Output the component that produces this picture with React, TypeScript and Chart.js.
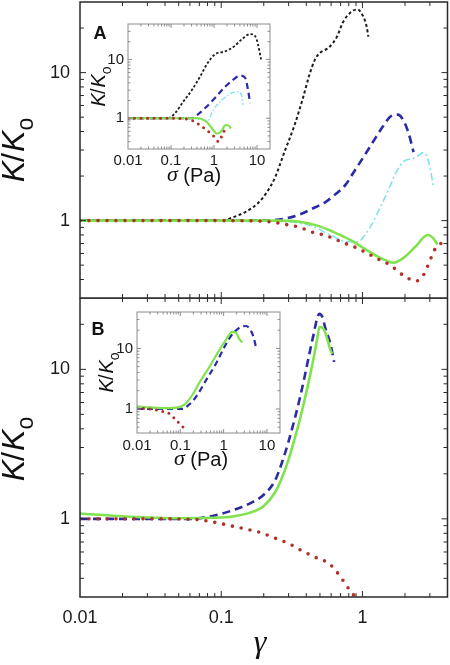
import React, { useEffect, useRef } from 'react';
import { Chart, registerables } from 'chart.js';
Chart.register(...registerables);

// ---------------- Data: main panel A (K/Ko vs strain gamma) ----------------
const gammaA_black = [0.01, 0.03, 0.06, 0.1, 0.12, 0.15, 0.18, 0.21, 0.24, 0.28, 0.33, 0.38, 0.42, 0.46, 0.5, 0.58, 0.66, 0.73, 0.82, 0.92, 1.0, 1.07, 1.1];
const kA_black = [1, 1, 1, 1.0, 1.05, 1.15, 1.3, 1.55, 1.95, 2.9, 4.4, 6.8, 9.6, 12.2, 13.6, 14.8, 17.5, 22, 25.4, 26.7, 24.5, 20.5, 17.5];

const gammaA_blue = [0.01, 0.1, 0.2, 0.28, 0.36, 0.43, 0.55, 0.64, 0.76, 0.86, 1.02, 1.18, 1.39, 1.6, 1.78, 1.95, 2.12, 2.3];
const kA_blue = [1, 1, 1.0, 1.03, 1.1, 1.19, 1.34, 1.5, 1.75, 2.1, 2.7, 3.37, 4.3, 5.1, 5.2, 4.75, 3.9, 2.9];

const gammaA_cyan = [0.01, 0.1, 0.3, 0.45, 0.59, 0.78, 0.94, 1.02, 1.14, 1.34, 1.53, 1.77, 1.95, 2.38, 2.71, 2.94, 3.19];
const kA_cyan = [1, 1, 0.98, 0.91, 0.8, 0.72, 0.72, 0.78, 0.91, 1.24, 1.62, 2.21, 2.5, 2.67, 2.88, 2.5, 1.67];

const gammaA_green = [0.01, 0.1, 0.25, 0.35, 0.48, 0.62, 0.82, 1.05, 1.34, 1.66, 1.95, 2.38, 2.89, 3.13, 3.4];
const kA_green = [1, 1, 1.0, 0.985, 0.925, 0.84, 0.74, 0.64, 0.56, 0.52, 0.56, 0.67, 0.8, 0.77, 0.69];

const gammaA_red = [0.01, 0.1, 0.2, 0.29, 0.36, 0.43, 0.53, 0.62, 0.73, 0.89, 1.05, 1.2, 1.39, 1.58, 1.8, 2.08, 2.38, 2.71, 2.94, 3.13, 3.35, 3.75, 4.0];
const kA_red = [1, 1, 0.99, 0.94, 0.9, 0.84, 0.8, 0.76, 0.71, 0.66, 0.61, 0.57, 0.53, 0.5, 0.45, 0.41, 0.39, 0.43, 0.51, 0.59, 0.67, 0.71, 0.72];

// ---------------- Data: main panel B ----------------
const gammaB_blue = [0.01, 0.063, 0.08, 0.1, 0.12, 0.16, 0.2, 0.24, 0.27, 0.3, 0.33, 0.36, 0.39, 0.42, 0.45, 0.475, 0.495, 0.52, 0.547, 0.593, 0.63];
const kB_blue = [1, 1, 1.03, 1.08, 1.14, 1.27, 1.45, 1.8, 2.4, 3.3, 4.6, 6.4, 9.0, 12.6, 17, 21.5, 23.5, 22.4, 18.7, 14.8, 11.2];

const gammaB_green = [0.01, 0.02, 0.05, 0.1, 0.13, 0.16, 0.2, 0.24, 0.27, 0.3, 0.33, 0.36, 0.39, 0.42, 0.45, 0.475, 0.497, 0.53, 0.565, 0.593, 0.61];
const kB_green = [1.085, 1.04, 1.01, 1.02, 1.05, 1.1, 1.22, 1.5, 1.9, 2.5, 3.4, 4.6, 6.3, 8.6, 11.8, 15.5, 19.2, 18.7, 15.8, 13.5, 12.7];

const gammaB_red = [0.01, 0.03, 0.065, 0.094, 0.122, 0.153, 0.189, 0.234, 0.294, 0.363, 0.449, 0.565, 0.623, 0.698, 0.783, 0.863, 0.9];
const kB_red = [1, 1, 0.99, 0.94, 0.89, 0.85, 0.81, 0.75, 0.69, 0.62, 0.56, 0.51, 0.47, 0.41, 0.35, 0.31, 0.295];

// ---------------- Data: inset A (K/Ko vs stress sigma) ----------------
const sigmaA_black = [0.01, 0.085, 0.124, 0.19, 0.308, 0.472, 0.725, 1.05, 1.8, 2.77, 4.48, 6.87, 8.98, 10.5, 12.4];
const kIA_black = [1, 1, 1.22, 1.89, 3.04, 5.1, 8.9, 12.2, 13.7, 16.1, 22.1, 27, 25, 18.1, 10];

const sigmaA_blue = [0.01, 0.308, 0.4, 0.62, 1.05, 1.8, 2.77, 4.03, 5.26, 6.17, 6.87];
const kIA_blue = [1, 1, 1.13, 1.49, 2.21, 3.42, 4.52, 5.3, 4.9, 3.04, 1.81];

const sigmaA_cyan = [0.01, 0.3, 0.5, 0.725, 0.95, 1.53, 2.62, 3.61, 4.48, 4.72];
const kIA_cyan = [1, 1, 0.95, 0.92, 1.37, 2.04, 2.7, 2.8, 2.3, 1.68];

const sigmaA_green = [0.01, 0.42, 0.69, 0.9, 1.17, 1.53, 1.8, 2.1, 2.48];
const kIA_green = [1, 1, 0.85, 0.67, 0.55, 0.62, 0.76, 0.76, 0.67];

const sigmaA_red = [0.01, 0.105, 0.308, 0.47, 0.69, 0.95, 1.3, 1.55, 1.85];
const kIA_red = [1, 1, 0.92, 0.76, 0.62, 0.51, 0.4, 0.52, 0.68];

// ---------------- Data: inset B ----------------
const sigmaB_green = [0.01, 0.02, 0.049, 0.082, 0.125, 0.181, 0.277, 0.468, 0.79, 1.21, 1.57, 1.94, 2.27, 2.67];
const kIB_green = [1.1, 1.06, 1.03, 1.05, 1.18, 1.62, 2.73, 4.94, 9.3, 15, 18.8, 18, 14.5, 12.5];

const sigmaB_blue = [0.01, 0.113, 0.147, 0.236, 0.4, 0.677, 1.03, 1.49, 2.27, 3.29, 4.28, 5.01, 5.57];
const kIB_blue = [1, 1, 1.12, 1.62, 3.05, 5.73, 10.4, 16.2, 21.8, 23.5, 19.5, 14.5, 10.4];

const sigmaB_red = [0.01, 0.02, 0.034, 0.057, 0.082, 0.113, 0.14];
const kIB_red = [1.02, 1, 0.93, 0.83, 0.64, 0.51, 0.43];

// ---------------- Axis ticks ----------------
const gammaTicks = [0.01, 0.1, 1];
const kMainTicks = [1, 10];
const sigmaTicks = [0.01, 0.1, 1, 10];
const kInsetTicks = [1, 10];

const SANS = '"Liberation Sans", Arial, Helvetica, sans-serif';
const SERIF = '"Liberation Serif", "Times New Roman", serif';

const C_BLACK = '#1c1c1c';
const C_BLUE = '#2b2ba8';
const C_CYAN = '#7fe2f0';
const C_GREEN = '#80e24c';
const C_RED = '#b0302a';

type Style = { color: string; width: number; dash: number[]; cap?: 'butt' | 'round' };

function ds(xs: number[], ys: number[], st: Style) {
  return {
    data: xs.map((x, i) => ({ x, y: ys[i] })),
    borderColor: st.color,
    borderWidth: st.width,
    borderDash: st.dash,
    borderCapStyle: st.cap || 'butt',
    pointRadius: 0,
    showLine: true,
    fill: false,
    cubicInterpolationMode: 'monotone',
  };
}

function logTicks(min: number, max: number) {
  const out: { v: number; major: boolean }[] = [];
  for (let e = Math.floor(Math.log10(min)); e <= Math.ceil(Math.log10(max)); e++) {
    for (let m = 1; m <= 9; m++) {
      const v = m * Math.pow(10, e);
      if (v > min * 1.0001 && v < max * 0.9999) out.push({ v, major: m === 1 });
    }
  }
  return out;
}

function makeOverlay(frame: { color: string; width: number; major: number; minor: number; fill: boolean }, extras: (ctx: CanvasRenderingContext2D, chart: any) => void) {
  return {
    id: 'overlay',
    beforeDatasetsDraw(chart: any) {
      if (!frame.fill) return;
      const { ctx, chartArea: a } = chart;
      ctx.save();
      ctx.fillStyle = '#ffffff';
      ctx.fillRect(a.left, a.top, a.right - a.left, a.bottom - a.top);
      ctx.restore();
    },
    afterDatasetsDraw(chart: any) {
      const { ctx, chartArea: a } = chart;
      const xs = chart.scales.x;
      const ys = chart.scales.y;
      ctx.save();
      ctx.strokeStyle = frame.color;
      ctx.lineWidth = 1;
      ctx.beginPath();
      for (const t of logTicks(xs.min, xs.max)) {
        const p = xs.getPixelForValue(t.v);
        const len = t.major ? frame.major : frame.minor;
        ctx.moveTo(p, a.bottom); ctx.lineTo(p, a.bottom - len);
        ctx.moveTo(p, a.top); ctx.lineTo(p, a.top + len);
      }
      for (const t of logTicks(ys.min, ys.max)) {
        const p = ys.getPixelForValue(t.v);
        const len = t.major ? frame.major : frame.minor;
        ctx.moveTo(a.left, p); ctx.lineTo(a.left + len, p);
        ctx.moveTo(a.right, p); ctx.lineTo(a.right - len, p);
      }
      ctx.stroke();
      ctx.lineWidth = frame.width;
      ctx.strokeRect(a.left, a.top, a.right - a.left, a.bottom - a.top);
      ctx.restore();
      ctx.save();
      extras(ctx, chart);
      ctx.restore();
    },
  };
}

function drawKTitle(ctx: CanvasRenderingContext2D, baseX: number, cy: number, size: number) {
  ctx.save();
  ctx.translate(baseX, cy);
  ctx.rotate(-Math.PI / 2);
  ctx.fillStyle = '#111';
  ctx.textAlign = 'left';
  ctx.textBaseline = 'alphabetic';
  const fK = `italic ${size}px ${SANS}`;
  const fS = `${size}px ${SANS}`;
  const fO = `${Math.round(size * 0.72)}px ${SANS}`;
  ctx.font = fK; const wK = ctx.measureText('K').width;
  ctx.font = fS; const wS = ctx.measureText('/').width;
  ctx.font = fO; const wO = ctx.measureText('o').width;
  const total = wK * 2 + wS + wO;
  let x = -total / 2;
  ctx.font = fK; ctx.fillText('K', x, 0); x += wK;
  ctx.font = fS; ctx.fillText('/', x - size * 0.04, 0); x += wS;
  ctx.font = fK; ctx.fillText('K', x, 0); x += wK;
  ctx.font = fO; ctx.fillText('o', x, size * 0.28);
  ctx.restore();
}

function drawSigmaTitle(ctx: CanvasRenderingContext2D, cx: number, cy: number, size: number) {
  ctx.fillStyle = '#111';
  ctx.textBaseline = 'middle';
  ctx.textAlign = 'left';
  const fSig = `italic ${size + 2}px ${SERIF}`;
  const fRest = `${size}px ${SANS}`;
  ctx.font = fSig; const w1 = ctx.measureText('σ').width;
  ctx.font = fRest; const w2 = ctx.measureText(' (Pa)').width;
  const x = cx - (w1 + w2) / 2;
  ctx.font = fSig; ctx.fillText('σ', x, cy - 1);
  ctx.font = fRest; ctx.fillText(' (Pa)', x + w1, cy);
}

function scaleOpts(min: number, max: number, ticks: number[], opts: { show: boolean; size: number; pad: number; fit: (s: any) => void }) {
  return {
    type: 'logarithmic',
    min,
    max,
    grid: { display: false, drawTicks: false },
    border: { display: false },
    ticks: {
      display: opts.show,
      font: { family: SANS, size: opts.size },
      color: '#1a1a1a',
      padding: opts.pad,
      autoSkip: false,
      maxRotation: 0,
      minRotation: 0,
      callback: (v: any) => String(v),
    },
    afterBuildTicks: (s: any) => { s.ticks = ticks.map((v) => ({ value: v })); },
    afterFit: (s: any) => {
      opts.fit(s);
      s.paddingTop = 0; s.paddingBottom = 0; s.paddingLeft = 0; s.paddingRight = 0;
    },
  };
}

function baseOptions(padding: any, x: any, y: any) {
  return {
    animation: false,
    responsive: false,
    maintainAspectRatio: false,
    events: [],
    layout: { padding },
    plugins: { legend: { display: false }, tooltip: { enabled: false }, title: { display: false } },
    scales: { x, y },
  };
}

const mainFrame = { color: '#2a2a2a', width: 1.5, major: 6, minor: 4, fill: false };
const insetFrame = { color: '#8c8c8c', width: 1, major: 4, minor: 2.5, fill: true };

export default function App() {
  const topRef = useRef<HTMLCanvasElement>(null);
  const botRef = useRef<HTMLCanvasElement>(null);
  const insARef = useRef<HTMLCanvasElement>(null);
  const insBRef = useRef<HTMLCanvasElement>(null);

  useEffect(() => {
    const charts: Chart[] = [];

    const mainStyles = {
      black: { color: C_BLACK, width: 2, dash: [3, 2.5] },
      blue: { color: C_BLUE, width: 2.6, dash: [8, 5] },
      cyan: { color: C_CYAN, width: 1.6, dash: [7, 3, 2, 3] },
      green: { color: C_GREEN, width: 2.6, dash: [] },
      red: { color: C_RED, width: 3.6, dash: [0, 9], cap: 'round' as const },
    };
    const insetStyles = {
      black: { color: C_BLACK, width: 1.8, dash: [2.5, 2] },
      blue: { color: C_BLUE, width: 2.2, dash: [6, 4] },
      cyan: { color: C_CYAN, width: 1.3, dash: [5, 2, 1.5, 2] },
      green: { color: C_GREEN, width: 2.2, dash: [] },
      red: { color: C_RED, width: 3, dash: [0, 6.5], cap: 'round' as const },
    };

    // Top main panel (A)
    charts.push(new Chart(topRef.current!, {
      type: 'scatter',
      data: {
        datasets: [
          ds(gammaA_red, kA_red, mainStyles.red),
          ds(gammaA_green, kA_green, mainStyles.green),
          ds(gammaA_blue, kA_blue, mainStyles.blue),
          ds(gammaA_cyan, kA_cyan, mainStyles.cyan),
          ds(gammaA_black, kA_black, mainStyles.black),
        ] as any,
      },
      options: baseOptions(
        { top: 2, right: 2.5, bottom: 2, left: 0 },
        scaleOpts(0.01, 4, gammaTicks, { show: false, size: 18, pad: 10, fit: (s: any) => { s.height = 0; } }),
        scaleOpts(0.3, 30, kMainTicks, { show: true, size: 18, pad: 10, fit: (s: any) => { s.width = 80; } }),
      ) as any,
      plugins: [makeOverlay(mainFrame, (ctx) => {
        drawKTitle(ctx, 24, 150, 32);
        ctx.fillStyle = '#111';
        ctx.font = `bold 18px ${SANS}`;
        ctx.textAlign = 'center';
        ctx.textBaseline = 'middle';
        ctx.fillText('A', 100, 34);
      })],
    }));

    // Bottom main panel (B)
    charts.push(new Chart(botRef.current!, {
      type: 'scatter',
      data: {
        datasets: [
          ds(gammaB_red, kB_red, mainStyles.red),
          ds(gammaB_green, kB_green, mainStyles.green),
          ds(gammaB_blue, kB_blue, mainStyles.blue),
        ] as any,
      },
      options: baseOptions(
        { top: 0, right: 2.5, bottom: 0, left: 0 },
        scaleOpts(0.01, 4, gammaTicks, { show: true, size: 18, pad: 10, fit: (s: any) => { s.height = 68; } }),
        scaleOpts(0.3, 30, kMainTicks, { show: true, size: 18, pad: 10, fit: (s: any) => { s.width = 80; } }),
      ) as any,
      plugins: [makeOverlay(mainFrame, (ctx) => {
        drawKTitle(ctx, 24, 151, 32);
        ctx.fillStyle = '#111';
        ctx.font = `bold 18px ${SANS}`;
        ctx.textAlign = 'center';
        ctx.textBaseline = 'middle';
        ctx.fillText('B', 98, 32);
        ctx.font = `italic 32px ${SERIF}`;
        ctx.fillText('γ', 260, 346);
      })],
    }));

    // Inset A
    charts.push(new Chart(insARef.current!, {
      type: 'scatter',
      data: {
        datasets: [
          ds(sigmaA_red, kIA_red, insetStyles.red),
          ds(sigmaA_green, kIA_green, insetStyles.green),
          ds(sigmaA_blue, kIA_blue, insetStyles.blue),
          ds(sigmaA_cyan, kIA_cyan, insetStyles.cyan),
          ds(sigmaA_black, kIA_black, insetStyles.black),
        ] as any,
      },
      options: baseOptions(
        { top: 10, right: 14, bottom: 0, left: 0 },
        scaleOpts(0.01, 20, sigmaTicks, { show: true, size: 15, pad: 3, fit: (s: any) => { s.height = 37; } }),
        scaleOpts(0.3, 40, kInsetTicks, { show: true, size: 15, pad: 4, fit: (s: any) => { s.width = 44; } }),
      ) as any,
      plugins: [makeOverlay(insetFrame, (ctx, chart) => {
        const a = chart.chartArea;
        drawKTitle(ctx, 21, (a.top + a.bottom) / 2, 20);
        drawSigmaTitle(ctx, 110, 162, 20);
      })],
    }));

    // Inset B
    charts.push(new Chart(insBRef.current!, {
      type: 'scatter',
      data: {
        datasets: [
          ds(sigmaB_red, kIB_red, insetStyles.red),
          ds(sigmaB_green, kIB_green, insetStyles.green),
          ds(sigmaB_blue, kIB_blue, insetStyles.blue),
        ] as any,
      },
      options: baseOptions(
        { top: 10, right: 12, bottom: 0, left: 0 },
        scaleOpts(0.01, 20, sigmaTicks, { show: true, size: 15, pad: 4, fit: (s: any) => { s.height = 39; } }),
        scaleOpts(0.4, 40, kInsetTicks, { show: true, size: 15, pad: 4, fit: (s: any) => { s.width = 45; } }),
      ) as any,
      plugins: [makeOverlay(insetFrame, (ctx, chart) => {
        const a = chart.chartArea;
        drawKTitle(ctx, 21, (a.top + a.bottom) / 2, 20);
        drawSigmaTitle(ctx, 109, 158, 20);
      })],
    }));

    return () => { charts.forEach((c) => c.destroy()); };
  }, []);

  const abs = (left: number, top: number): React.CSSProperties => ({ position: 'absolute', left, top });

  return (
    <div style={{ position: 'absolute', left: 0, top: 0, width: 450, height: 665, background: '#ffffff', overflow: 'hidden' }}>
      <canvas ref={topRef} width={450} height={300} style={abs(0, 0)} />
      <canvas ref={botRef} width={450} height={367} style={abs(0, 298)} />
      <canvas ref={insARef} width={200} height={172} style={abs(84, 14)} />
      <canvas ref={insBRef} width={200} height={170} style={abs(92, 302)} />
    </div>
  );
}
